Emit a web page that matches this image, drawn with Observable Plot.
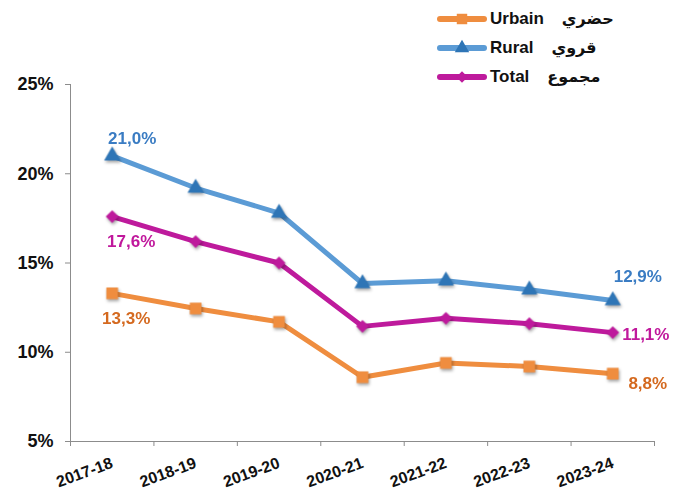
<!DOCTYPE html>
<html>
<head>
<meta charset="utf-8">
<script src="https://cdn.jsdelivr.net/npm/d3@7"></script>
<script src="https://cdn.jsdelivr.net/npm/@observablehq/plot@0.6"></script>
<style>
  html, body { margin: 0; padding: 0; background: #fff; }
  #wrap { position: relative; width: 688px; height: 496px; font-family: "Liberation Sans", Arial, "DejaVu Sans", sans-serif; }
  #legend { position: absolute; left: 436px; top: 4px; }
  .row { display: flex; align-items: center; height: 29px; font-weight: bold; font-size: 17px; color: #111; }
  .row svg { margin-right: 2px; }
  .ar { margin-left: 18px; font-size: 16px; font-family: "DejaVu Sans", "Noto Sans", sans-serif; }
  g[aria-label="dot"] { filter: drop-shadow(1.5px 2.5px 1.5px rgba(0,0,0,0.35)); }
</style>
</head>
<body>
<div id="wrap"><div id="legend"></div></div>
<script>
const years = ["2017-18","2018-19","2019-20","2020-21","2021-22","2022-23","2023-24"];
const urbain = [13.3, 12.45, 11.7, 8.6, 9.4, 9.2, 8.8];
const rural  = [21.0, 19.2, 17.8, 13.85, 14.0, 13.5, 12.9];
const total  = [17.6, 16.2, 15.0, 11.45, 11.9, 11.6, 11.1];
const yTicks = [5, 10, 15, 20, 25];
const seriesNames = ["Urbain", "Rural", "Total"];
const seriesArabic = ["حضري", "قروي", "مجموع"];

const series = [
  {name: "Rural", values: rural, line: "#5b9bd5", mark: "#2e75b6", label: "#3a7cc3", symbol: "triangle", r: 6},
  {name: "Total", values: total, line: "#be1a9c", mark: "#be1a9c", label: "#c0189c", symbol: "diamond2", r: 5.8},
  {name: "Urbain", values: urbain, line: "#ef8d3f", mark: "#ef8d3f", label: "#d4691f", symbol: "square", r: 6.6}
];

const rows = (s) => s.values.map((v, i) => ({i, v, year: years[i]}));
const fmt = v => v.toFixed(1).replace(".", ",") + "%";

const marks = [
  Plot.ruleY([5], {stroke: "#8c8c8c", strokeWidth: 1}),
  Plot.ruleX([-0.5], {stroke: "#8c8c8c", strokeWidth: 1}),
  Plot.axisY({ticks: yTicks, tickFormat: d => d + "%", tickSize: 5, tickPadding: 12, stroke: "#8c8c8c", fill: "#111", fontSize: 18, fontWeight: "bold", label: null}),
  Plot.axisX({ticks: d3.range(years.length + 1).map(k => k - 0.5), tickSize: 5, stroke: "#8c8c8c", tickFormat: () => "", label: null}),
  Plot.axisX({ticks: d3.range(years.length), tickSize: 0, tickPadding: 21, tickRotate: -20, tickFormat: i => years[i], fill: "#111", fontSize: 16, fontWeight: "bold", label: null})
];

for (const s of series) {
  marks.push(Plot.line(rows(s), {x: "i", y: "v", stroke: s.line, strokeWidth: 5}));
}
for (const s of series) {
  marks.push(Plot.dot(rows(s), {x: "i", y: "v", symbol: () => s.symbol, fill: s.mark, r: s.r, stroke: "none"}));
}

const labelOpts = {fontSize: 17, fontWeight: "bold", text: d => fmt(d.v)};
const first = s => [rows(s)[0]];
const last = s => [rows(s)[s.values.length - 1]];
const [R, T, U] = series;
marks.push(
  Plot.text(first(R), {...labelOpts, x: "i", y: "v", fill: R.label, dx: 20, dy: -17}),
  Plot.text(last(R), {...labelOpts, x: "i", y: "v", fill: R.label, dx: 25, dy: -24}),
  Plot.text(first(T), {...labelOpts, x: "i", y: "v", fill: T.label, dx: 19, dy: 25}),
  Plot.text(last(T), {...labelOpts, x: "i", y: "v", fill: T.label, dx: 33, dy: 2}),
  Plot.text(first(U), {...labelOpts, x: "i", y: "v", fill: U.label, dx: 14, dy: 25}),
  Plot.text(last(U), {...labelOpts, x: "i", y: "v", fill: U.label, dx: 35, dy: 10})
);

const chart = Plot.plot({
  width: 688,
  height: 496,
  marginLeft: 70,
  marginRight: 34,
  marginTop: 84,
  marginBottom: 55,
  style: {fontFamily: '"Liberation Sans", Arial, "DejaVu Sans", sans-serif', background: "#fff", overflow: "visible"},
  x: {type: "linear", domain: [-0.5, years.length - 0.5], label: null},
  y: {domain: [5, 25], label: null},
  marks
});
document.getElementById("wrap").prepend(chart);

// legend
const legend = d3.select("#legend");
const legendOrder = ["Urbain", "Rural", "Total"];
const symMap = {triangle: d3.symbolTriangle, diamond2: d3.symbolDiamond2, square: d3.symbolSquare};
legendOrder.forEach((name) => {
  const s = series.find(d => d.name === name);
  const row = legend.append("div").attr("class", "row");
  const svg = row.append("svg").attr("width", 52).attr("height", 20);
  svg.append("line").attr("x1", 4).attr("x2", 48).attr("y1", 10).attr("y2", 10)
    .attr("stroke", s.line).attr("stroke-width", 6).attr("stroke-linecap", "round");
  svg.append("path").attr("transform", "translate(26,10)")
    .attr("d", d3.symbol(symMap[s.symbol], Math.PI * s.r * s.r * 0.8)())
    .attr("fill", s.mark);
  row.append("span").text(name);
  row.append("span").attr("class", "ar").attr("dir", "rtl").text(seriesArabic[seriesNames.indexOf(name)]);
});
</script>
</body>
</html>
